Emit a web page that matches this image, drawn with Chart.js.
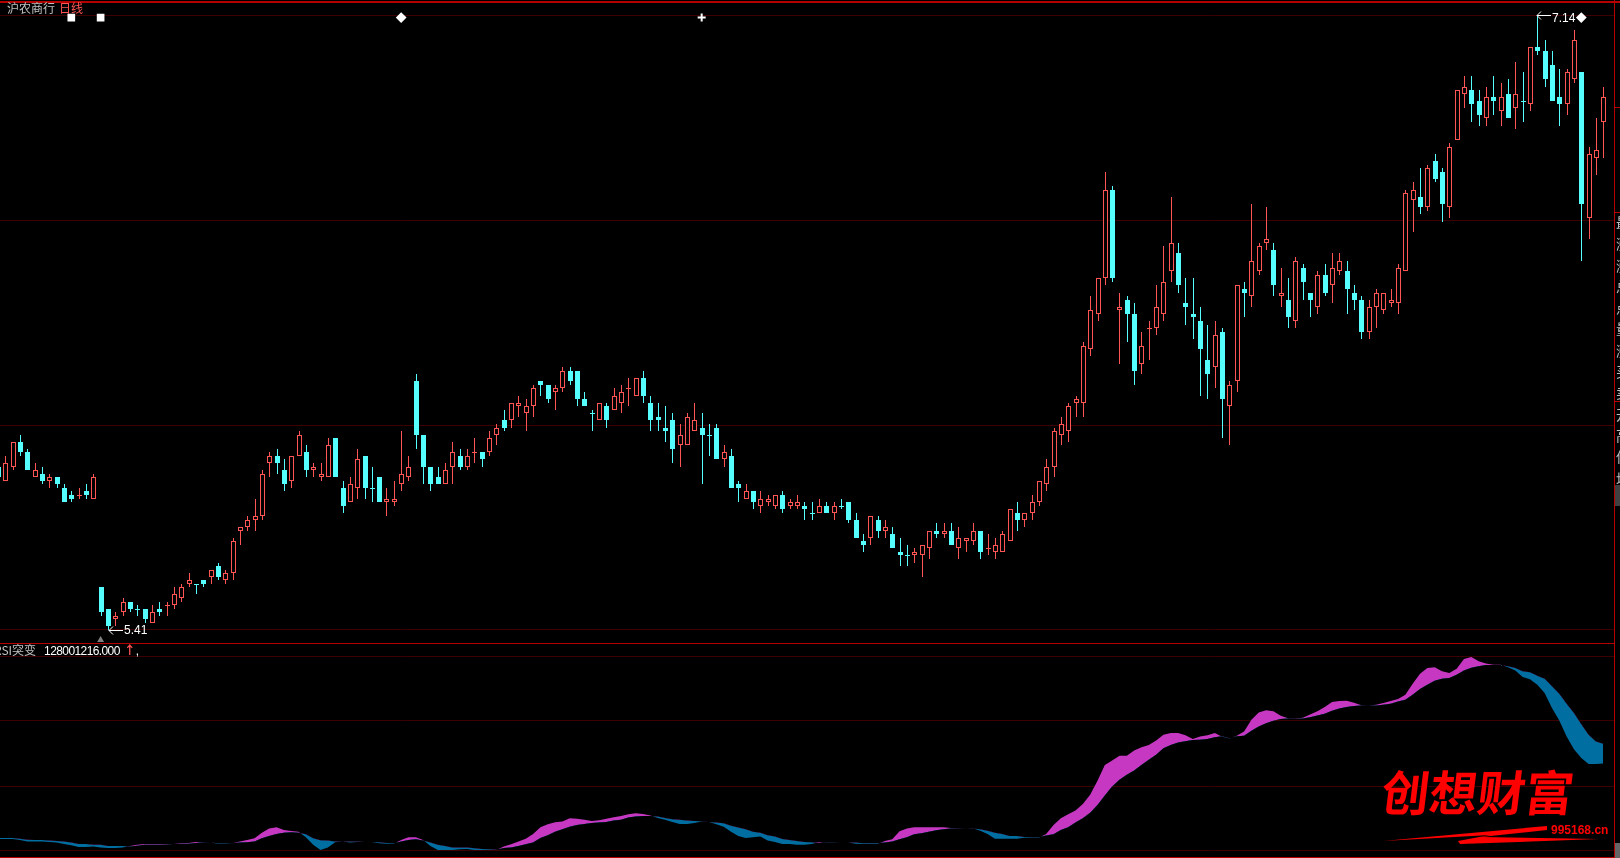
<!DOCTYPE html>
<html lang="zh-CN">
<head>
<meta charset="utf-8">
<title>沪农商行 日线</title>
<script src="https://cdn.jsdelivr.net/npm/chart.js@4"></script>
<style>
  html, body { margin: 0; padding: 0; background: #000; overflow: hidden; }
  #stage { position: relative; width: 1620px; height: 858px; background: #000; overflow: hidden; }
  canvas { position: absolute; left: 0; }
  #chart-price { top: 0; }
  #chart-rsi { top: 644px; }
  .rule { position: absolute; background: #b40000; }
  .label { position: absolute; white-space: nowrap; font: 12px/14px "Noto Sans CJK SC", sans-serif; color: #c0c0c0; }
  .num { font-family: "Liberation Sans", sans-serif; letter-spacing: -0.6px; color: #fff; }
  .red { color: #ff5555; }
  #side-text { position: absolute; left: 1616px; top: 212px; width: 4px; height: 272px; overflow: hidden;
    font: 14px/21.3px "Noto Sans CJK SC", sans-serif; color: #c0c0c0; }
  .block { position: absolute; left: 1615px; width: 5px; }
  #logo { position: absolute; left: 1382px; top: 757px; white-space: nowrap; color: #f00;
    font: 700 48px/66px "Noto Sans CJK SC", sans-serif; transform: skewX(-7deg); }
  #logo-url { position: absolute; left: 1551px; top: 822px; color: #f00;
    font: bold 12px/16px "Liberation Sans Narrow", "Liberation Sans", sans-serif; }
  #swoosh { position: absolute; left: 0; top: 0; }
</style>
</head>
<body>
<div id="stage">
  <canvas id="chart-price" width="1614" height="643"></canvas>
  <canvas id="chart-rsi" width="1614" height="213"></canvas>

  <div class="rule" style="left:0;top:1px;width:1620px;height:2px"></div>
  <div class="rule" style="left:0;top:643px;width:1615px;height:1px"></div>
  <div class="rule" style="left:0;top:857px;width:1615px;height:1px"></div>
  <div class="rule" style="left:1614px;top:0;width:1px;height:858px"></div>
  <div class="rule" style="left:1615px;top:107px;width:5px;height:1px"></div>
  <div class="rule" style="left:1615px;top:212px;width:5px;height:1px"></div>
  <div class="rule" style="left:1615px;top:401px;width:5px;height:1px"></div>

  <div class="label" style="left:7px;top:1px">沪农商行<span class="red" style="margin-left:4px">日线</span></div>
  <div class="label" style="left:-6px;top:643px">RSI突变<span class="num" style="margin-left:8px">128001216.000</span><span class="red" style="margin-left:4px;font-weight:700">↑</span><span class="num">,</span></div>

  <div id="side-text">最<br>涨<br>涨<br>总<br>点<br>量<br>涨<br>买<br>卖<br>开<br>高<br>低<br>均</div>
  <div class="block" style="top:485px;height:21px;background:#404040"></div>
  <div class="block" style="top:843px;height:15px;background:#666"></div>

  <svg id="swoosh" width="1620" height="858">
    <polygon fill="#f00" points="1383,841 1547,826 1547,830 1481,837 1599,839 1460,844 1458,841 1490,835"></polygon>
  </svg>
  <div id="logo">创想财富</div>
  <div id="logo-url">995168.cn</div>
</div>

<script>
/* 日K 價格（元），每根一筆，依序由左至右 */
const openPrices = [
  5.87,5.83,5.87,5.94,5.91,5.84,5.85,5.83,5.84,5.81, 5.79,5.79,5.80,5.78,5.53,5.47,5.44,5.46,5.49,5.47,
  5.47,5.43,5.47,5.48,5.48,5.50,5.54,5.54,5.55,5.56, 5.59,5.55,5.57,5.69,5.70,5.72,5.73,5.88,5.90,5.86,
  5.83,5.90,5.91,5.86,5.84,5.84,5.95,5.81,5.77,5.81, 5.90,5.81,5.84,5.77,5.77,5.82,5.84,6.11,5.96,5.87,
  5.84,5.82,5.87,5.90,5.87,5.91,5.91,5.91,5.96,6.00, 6.00,6.04,6.02,6.04,6.11,6.10,6.08,6.09,6.14,6.14,
  6.06,6.02,6.00,6.04,6.03,6.05,6.09,6.07,6.12,6.05, 6.01,5.98,6.00,5.93,5.93,5.97,5.98,5.96,5.98,5.89,
  5.90,5.82,5.78,5.80,5.76,5.77,5.76,5.79,5.76,5.76, 5.76,5.74,5.74,5.76,5.74,5.76,5.77,5.72,5.66,5.67,
  5.72,5.69,5.68,5.63,5.62,5.62,5.62,5.64,5.69,5.68, 5.69,5.64,5.66,5.66,5.69,5.64,5.63,5.63,5.66,5.74,
  5.72,5.74,5.77,5.82,5.87,5.96,5.97,6.05,6.05,6.20, 6.30,6.40,6.65,6.31,6.34,6.30,6.16,6.26,6.26,6.30,
  6.42,6.47,6.33,6.30,6.28,6.17,6.15,6.25,6.04,6.11, 6.37,6.35,6.42,6.50,6.48,6.35,6.34,6.28,6.43,6.36,
  6.32,6.41,6.38,6.42,6.42,6.36,6.34,6.25,6.32,6.31, 6.33,6.33,6.42,6.62,6.63,6.60,6.73,6.70,6.60,6.79,
  6.92,6.93,6.90,6.85,6.91,6.87,6.92,6.88,6.90,6.89, 7.05,7.04,7.00,6.91,6.89,6.96,6.98,6.57,6.74,6.84
];
const highPrices = [
  5.87,5.90,5.94,5.96,5.92,5.88,5.87,5.85,5.84,5.82, 5.80,5.81,5.82,5.85,5.53,5.47,5.46,5.50,5.49,5.48,
  5.47,5.48,5.49,5.49,5.53,5.54,5.57,5.54,5.55,5.58, 5.60,5.58,5.67,5.70,5.73,5.78,5.86,5.91,5.92,5.89,
  5.90,5.97,5.93,5.88,5.88,5.95,5.95,5.83,5.84,5.92, 5.90,5.87,5.84,5.81,5.83,5.97,5.90,6.13,5.96,5.87,
  5.87,5.88,5.94,5.92,5.92,5.95,5.91,5.97,5.99,6.03, 6.05,6.07,6.06,6.10,6.11,6.10,6.10,6.15,6.15,6.14,
  6.08,6.03,6.05,6.05,6.09,6.10,6.12,6.12,6.14,6.07, 6.05,6.04,6.02,5.99,6.02,6.05,6.02,5.99,5.99,5.93,
  5.92,5.83,5.82,5.80,5.80,5.79,5.79,5.80,5.78,5.79, 5.77,5.77,5.78,5.77,5.77,5.78,5.77,5.74,5.68,5.73,
  5.73,5.72,5.70,5.67,5.65,5.64,5.65,5.69,5.71,5.71, 5.71,5.70,5.67,5.71,5.69,5.68,5.67,5.69,5.75,5.77,
  5.74,5.79,5.83,5.89,5.98,6.01,6.05,6.07,6.22,6.35, 6.40,6.70,6.66,6.36,6.35,6.33,6.25,6.28,6.38,6.49,
  6.63,6.50,6.40,6.40,6.32,6.27,6.28,6.26,6.11,6.38, 6.39,6.61,6.50,6.60,6.50,6.43,6.40,6.46,6.44,6.36,
  6.42,6.44,6.47,6.47,6.45,6.38,6.35,6.34,6.37,6.36, 6.37,6.44,6.65,6.67,6.71,6.72,6.75,6.71,6.78,6.93,
  6.97,6.97,6.93,6.94,6.97,6.95,6.96,7.01,6.98,7.05, 7.14,7.07,7.04,6.99,6.99,7.10,6.98,6.77,6.85,6.94
];
const lowPrices = [
  5.84,5.83,5.86,5.90,5.86,5.84,5.82,5.81,5.81,5.77, 5.77,5.78,5.78,5.78,5.45,5.41,5.42,5.45,5.46,5.45,
  5.43,5.43,5.45,5.45,5.47,5.49,5.53,5.51,5.53,5.54, 5.55,5.54,5.55,5.65,5.69,5.69,5.72,5.84,5.85,5.80,
  5.81,5.90,5.84,5.84,5.83,5.84,5.84,5.74,5.77,5.78, 5.78,5.77,5.77,5.73,5.76,5.80,5.83,5.92,5.82,5.80,
  5.82,5.82,5.82,5.86,5.86,5.88,5.87,5.90,5.93,5.97, 5.98,6.01,5.97,6.01,6.07,6.05,6.03,6.08,6.10,6.04,
  6.04,5.97,6.00,5.98,6.03,6.02,6.04,6.07,6.05,5.97, 5.97,5.94,5.88,5.87,5.93,5.97,5.82,5.90,5.89,5.87,
  5.81,5.77,5.78,5.75,5.74,5.76,5.75,5.74,5.75,5.75, 5.72,5.72,5.74,5.74,5.72,5.75,5.71,5.67,5.63,5.65,
  5.67,5.67,5.64,5.59,5.59,5.60,5.56,5.61,5.67,5.67, 5.65,5.61,5.63,5.65,5.61,5.62,5.61,5.63,5.66,5.69,
  5.70,5.72,5.76,5.80,5.84,5.93,5.94,6.01,6.01,6.18, 6.28,6.38,6.39,6.16,6.22,6.10,6.13,6.17,6.24,6.28,
  6.39,6.36,6.27,6.23,6.07,6.06,6.09,5.95,5.93,6.08, 6.29,6.32,6.41,6.48,6.35,6.32,6.26,6.26,6.34,6.29,
  6.30,6.35,6.33,6.41,6.30,6.31,6.23,6.23,6.26,6.30, 6.32,6.30,6.42,6.53,6.58,6.59,6.67,6.56,6.57,6.79,
  6.88,6.84,6.83,6.83,6.86,6.83,6.85,6.82,6.84,6.87, 7.03,6.94,6.90,6.83,6.86,6.95,6.45,6.51,6.69,6.74
];
const closePrices = [
  5.84,5.88,5.94,5.91,5.86,5.86,5.83,5.84,5.82,5.77, 5.78,5.79,5.79,5.84,5.46,5.42,5.45,5.49,5.47,5.47,
  5.44,5.46,5.46,5.48,5.51,5.53,5.55,5.54,5.54,5.58, 5.56,5.57,5.66,5.70,5.72,5.73,5.85,5.90,5.88,5.82,
  5.90,5.96,5.86,5.87,5.85,5.93,5.84,5.76,5.82,5.89, 5.81,5.81,5.77,5.78,5.78,5.85,5.87,5.96,5.87,5.82,
  5.82,5.86,5.91,5.87,5.90,5.91,5.89,5.95,5.98,5.98, 6.05,6.05,6.04,6.09,6.10,6.06,6.09,6.14,6.11,6.06,
  6.04,6.02,6.05,6.00,6.07,6.08,6.09,6.12,6.07,6.00, 6.00,5.97,5.92,5.96,6.01,6.00,5.96,5.96,5.89,5.91,
  5.81,5.81,5.80,5.77,5.78,5.78,5.79,5.75,5.77,5.77, 5.75,5.74,5.76,5.74,5.76,5.76,5.72,5.67,5.65,5.73,
  5.69,5.70,5.64,5.62,5.62,5.63,5.65,5.69,5.68,5.69, 5.65,5.67,5.67,5.69,5.63,5.64,5.65,5.68,5.75,5.72,
  5.74,5.77,5.83,5.87,5.97,5.99,6.04,6.06,6.21,6.31, 6.40,6.65,6.40,6.32,6.30,6.14,6.21,6.26,6.32,6.39,
  6.50,6.38,6.32,6.29,6.20,6.13,6.24,6.06,6.10,6.38, 6.36,6.45,6.49,6.51,6.38,6.36,6.29,6.45,6.39,6.34,
  6.41,6.36,6.43,6.45,6.37,6.34,6.25,6.32,6.36,6.36, 6.34,6.43,6.64,6.65,6.60,6.71,6.68,6.61,6.77,6.93,
  6.94,6.89,6.86,6.91,6.90,6.91,6.85,6.92,6.90,7.05, 7.04,6.96,6.90,6.89,6.98,7.07,6.61,6.75,6.76,6.91
];
/* 開收相同、畫成青色的那幾根 */
const flatDownDays = [19, 27, 51, 81, 97, 111, 115, 124, 208];

/* 價格區網格線 */
const priceGrid = [7.14, 6.563, 5.986, 5.41];

/* 頂部標記 */
const markerDays = [10, 14, 55, 96, 216];
const markerPrices = [7.134, 7.134, 7.134, 7.134, 7.134];
const markerStyles = ['rect', 'rect', 'rectRot', 'cross', 'rectRot'];

/* 最低點下方的灰色三角 */
const lowMarkDays = [14];
const lowMarkPrices = [5.382];

/* 最高、最低價標註 */
const highDay = 210;
const highLabel = 7.14;
const lowDay = 15;
const lowLabel = 5.41;

/* RSI 突變：快線與慢線 */
const rsiFast = [
  5.8,5.8,5.8,5.3,4.6,4.5,4.5,4.3,4.0,3.3, 2.6,1.7,1.7,1.9,1.5,1.2,1.2,1.5,2.2,2.9,
  3.3,3.3,3.3,3.1,3.3,3.8,3.8,4.3,4.3,4.0, 3.4,3.4,3.6,4.6,5.3,6.2,9.1,11.2,11.9,10.5,
  10.0,9.6,6.7,2.8,0.2,1.5,4.1,4.6,4.0,4.3, 4.5,4.3,3.6,3.4,3.4,5.3,6.7,6.7,5.3,2.2,
  0.2,0.2,0.2,0.5,0.7,0.2,0.2,0.2,0.2,1.9, 3.1,4.5,6.0,8.4,11.9,13.4,14.4,14.8,16.5,16.2,
  15.8,15.1,15.5,16.3,17.0,17.7,18.6,19.1,18.7,17.9, 16.7,15.7,14.6,13.6,13.6,14.1,14.8,14.6,13.4,12.2,
  9.6,7.4,6.4,6.7,7.1,5.0,4.3,3.3,3.3,2.8, 2.8,3.3,4.1,4.0,4.0,4.0,4.0,3.4,3.3,3.3,
  3.3,4.8,5.7,9.8,11.2,11.9,11.9,11.9,11.9,11.9, 11.5,11.4,11.4,11.4,10.1,8.4,6.0,6.0,6.0,6.0,
  6.5,6.5,6.5,8.4,13.1,16.5,18.6,20.5,23.9,28.6, 35.8,44.0,46.3,48.7,48.7,51.4,53.1,54.2,56.6,59.5,
  60.4,60.4,59.3,57.4,58.7,59.3,60.4,58.5,57.6,59.0, 61.2,67.3,71.0,72.2,71.6,69.3,68.1,67.9,68.3,70.0,
  71.6,73.8,76.4,76.9,77.1,76.0,74.8,74.6,75.0,75.9, 76.9,77.9,80.2,85.8,91.0,93.9,94.3,92.2,91.3,93.6,
  98.6,99.6,97.4,96.3,95.6,95.6,94.3,92.7,89.3,88.2, 85.3,81.0,73.3,66.9,58.7,52.1,47.5,44.5,44.5,44.7
];
const rsiSlow = [
  6.4,6.4,6.4,6.0,5.5,5.3,5.3,5.0,4.8,4.5, 4.0,3.3,3.3,2.8,2.8,2.2,2.2,2.2,1.9,2.4,
  2.8,2.9,2.9,2.9,3.3,3.4,3.4,3.8,4.1,4.0, 3.6,3.6,3.6,4.0,4.1,4.6,6.2,7.4,8.4,9.1,
  9.3,9.1,8.3,6.2,5.2,5.0,4.6,4.6,4.6,4.6, 4.6,4.3,4.1,3.8,3.6,4.6,5.3,5.7,5.0,4.0,
  2.8,2.2,1.5,1.5,1.5,1.0,0.7,0.5,0.3,1.2, 1.5,2.2,3.1,4.0,6.4,7.7,9.5,10.8,12.2,13.1,
  13.6,14.1,14.3,14.6,15.3,15.8,16.9,17.4,17.7,17.7, 17.4,16.7,16.0,15.7,15.3,15.1,15.0,14.6,14.3,13.9,
  12.7,11.7,10.8,9.6,9.1,7.7,7.1,5.8,5.3,4.8, 4.3,4.1,3.8,4.1,4.1,4.0,4.0,4.0,3.6,3.6,
  3.6,4.0,4.5,5.7,6.7,8.3,8.8,9.6,10.3,10.8, 11.2,11.2,11.4,11.2,10.8,10.1,9.1,8.4,7.4,7.4,
  6.9,6.7,6.7,7.6,8.3,10.5,11.9,14.3,16.5,19.4, 23.4,28.2,32.9,36.3,38.9,41.1,44.0,46.6,49.2,52.6,
  54.2,55.6,56.2,56.8,56.9,57.3,58.3,58.8,57.8,58.8, 59.0,61.6,63.8,65.5,66.7,67.6,67.9,67.8,67.9,68.6,
  69.5,70.3,71.9,73.1,73.8,74.3,74.6,74.6,74.6,75.0, 75.5,76.7,77.6,80.2,83.1,85.3,87.4,88.4,88.8,90.5,
  92.7,94.1,94.8,95.5,95.5,95.5,94.8,93.9,92.2,91.7, 90.0,88.4,84.5,80.7,75.5,70.7,65.0,59.5,56.1,54.9
];
const rsiGrid = [0, 33, 67, 100];

const RED = '#ff5555';
const CYAN = '#55ffff';
const GRID = '#3c0000';

/* x 軸可視範圍：K 線間距 7.33px，第 0 根在 -2px */
const xRange = { min: 2 / 7.33, max: 1616 / 7.33 };

const days = openPrices.map((_, i) => i);

function isDown(i) {
  return closePrices[i] < openPrices[i] || flatDownDays.includes(i);
}

/* 對齊像素，讓影線和實體邊框保持 1px */
const snapBars = {
  id: 'snapBars',
  afterDatasetsUpdate(chart) {
    chart.data.datasets.forEach((ds, idx) => {
      if (ds.type !== 'bar') return;
      chart.getDatasetMeta(idx).data.forEach(el => {
        el.x = Math.round(el.x) + 0.5;
        el.y = Math.round(el.y);
        el.base = Math.round(el.base);
        if (el.base === el.y) el.base = el.y + 1;
      });
    });
  }
};

function drawPriceNote(ctx, x, y, label, textDy) {
  ctx.strokeStyle = '#fff';
  ctx.lineWidth = 1;
  ctx.beginPath();
  ctx.moveTo(x + 14, y);
  ctx.lineTo(x, y);
  ctx.moveTo(x + 4, y - 4);
  ctx.lineTo(x, y);
  ctx.lineTo(x + 4, y + 4);
  ctx.stroke();
  ctx.fillStyle = '#fff';
  ctx.font = '12px "Liberation Sans", sans-serif';
  ctx.textBaseline = 'middle';
  ctx.fillText(label.toFixed(2), x + 15, y + textDy);
}

const priceNotes = {
  id: 'priceNotes',
  afterDatasetsDraw(chart) {
    const { ctx, scales } = chart;
    ctx.save();
    drawPriceNote(ctx, Math.round(scales.x.getPixelForValue(highDay)), Math.round(scales.y.getPixelForValue(highLabel)) + 0.5, highLabel, 3.5);
    drawPriceNote(ctx, Math.round(scales.x.getPixelForValue(lowDay)) + 1, Math.round(scales.y.getPixelForValue(lowLabel)) + 0.5, lowLabel, 0);
    ctx.restore();
  }
};

function gridScale(values, min, max) {
  return {
    min: min,
    max: max,
    afterBuildTicks: scale => { scale.ticks = values.map(v => ({ value: v })); },
    ticks: { display: false },
    border: { display: false },
    grid: { color: GRID, drawTicks: false }
  };
}

const baseOptions = {
  responsive: false,
  animation: false,
  events: [],
  layout: { padding: 0, autoPadding: false },
  plugins: { legend: { display: false }, tooltip: { enabled: false } }
};

new Chart(document.getElementById('chart-price'), {
  data: {
    datasets: [
      {
        type: 'bar',
        label: '實體',
        data: days.map(i => ({ x: i, y: [openPrices[i], closePrices[i]] })),
        backgroundColor: days.map(i => isDown(i) ? CYAN : '#000'),
        borderColor: days.map(i => isDown(i) ? CYAN : RED),
        borderWidth: 1,
        borderSkipped: false,
        inflateAmount: 0,
        barThickness: 5,
        grouped: false,
        order: 1
      },
      {
        type: 'bar',
        label: '影線',
        data: days.map(i => ({ x: i, y: [lowPrices[i], highPrices[i]] })),
        backgroundColor: days.map(i => isDown(i) ? CYAN : RED),
        borderWidth: 0,
        borderSkipped: false,
        inflateAmount: 0,
        barThickness: 1,
        grouped: false,
        order: 2
      },
      {
        type: 'scatter',
        label: '標記',
        data: markerDays.map((d, i) => ({ x: d, y: markerPrices[i] })),
        pointStyle: markerStyles,
        pointRadius: 4,
        pointBackgroundColor: '#fff',
        pointBorderColor: '#fff',
        pointBorderWidth: 2,
        order: 0
      },
      {
        type: 'scatter',
        label: '低點',
        data: lowMarkDays.map((d, i) => ({ x: d, y: lowMarkPrices[i] })),
        pointStyle: 'triangle',
        pointRadius: 4,
        pointBackgroundColor: '#808080',
        pointBorderColor: '#808080',
        pointBorderWidth: 0,
        order: 0
      }
    ]
  },
  options: {
    ...baseOptions,
    scales: {
      x: { type: 'linear', display: false, min: xRange.min, max: xRange.max, offset: false },
      y: gridScale(priceGrid, 5.3734, 7.1836)
    }
  },
  plugins: [snapBars, priceNotes]
});

new Chart(document.getElementById('chart-rsi'), {
  type: 'line',
  data: {
    datasets: [
      {
        label: '快線',
        data: days.map(i => ({ x: i, y: rsiFast[i] })),
        borderWidth: 0,
        pointRadius: 0,
        tension: 0,
        fill: { target: '+1', above: '#c638c2', below: '#006ea0' }
      },
      {
        label: '慢線',
        data: days.map(i => ({ x: i, y: rsiSlow[i] })),
        borderWidth: 0,
        pointRadius: 0,
        tension: 0,
        fill: false
      }
    ]
  },
  options: {
    ...baseOptions,
    scales: {
      x: { type: 'linear', display: false, min: xRange.min, max: xRange.max },
      y: gridScale(rsiGrid, -3.45, 106.3)
    }
  }
});
</script>
</body>
</html>
